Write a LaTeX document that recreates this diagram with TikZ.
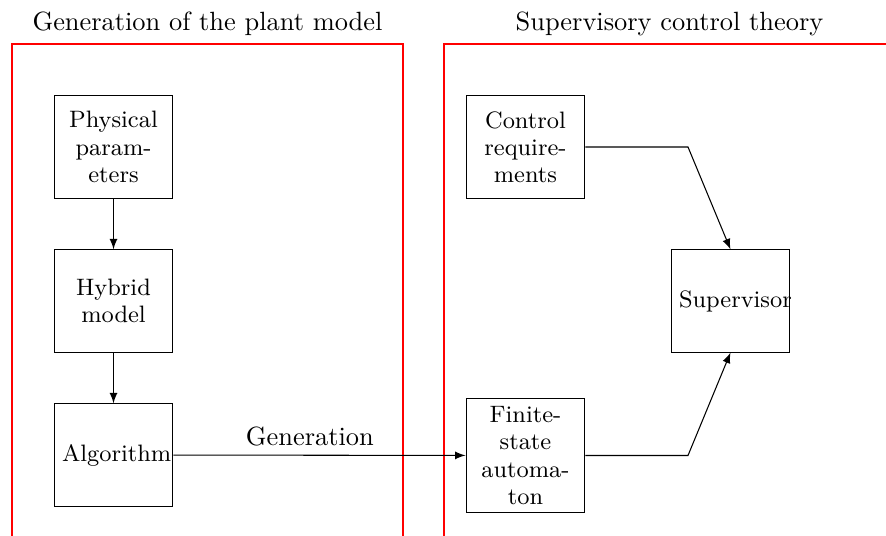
\documentclass[tikz,border=0pt]{standalone}
\usetikzlibrary{arrows}
\begin{document}
\begin{tikzpicture}[x=0.379pt,y=-0.379pt,
  blk/.style={draw, font=\fontsize{9}{10.3}\selectfont, align=center, text width=39pt, inner sep=3pt, minimum height=38.7pt},
  arr/.style={-latex},
  frame/.style={draw=red},
  ttl/.style={anchor=base, inner sep=0pt}]
\clip (0,0) rectangle (886,536);
% frames
\draw[frame] (12,600) |- (403,44) -- (403,600);
\draw[frame] (444,600) |- (895,44) -- (895,600);
\node[ttl] (t1) at (207.5,30.5) {Generation of the plant model};
\node[ttl] (t2) at (669.5,30.5) {Supervisory control theory};
% blocks
\node[blk] (phys) at (113.5,147) {Physical parameters};
\node[blk] (hyb) at (113.5,301) {Hybrid model};
\node[blk] (alg) at (113.5,455) {Algorithm};
\node[blk] (ctrl) at (525.5,147) {Control requirements};
\node[blk] (fin) at (525.5,455.5) {Finite-state automaton};
\node[blk] (sup) at (730.5,301) {Supervisor};
\coordinate (c1) at (688,147);
\coordinate (c2) at (688,455.5);
% connectors
\draw[arr] (phys) -- (hyb);
\draw[arr] (hyb) -- (alg);
\draw[arr] (alg) -- node[above, pos=0.467] {Generation} (fin);
\draw[arr] (ctrl.east) -- (c1) -- (sup.north);
\draw[arr] (fin.east) -- (c2) -- (sup.south);
\end{tikzpicture}
\end{document}
